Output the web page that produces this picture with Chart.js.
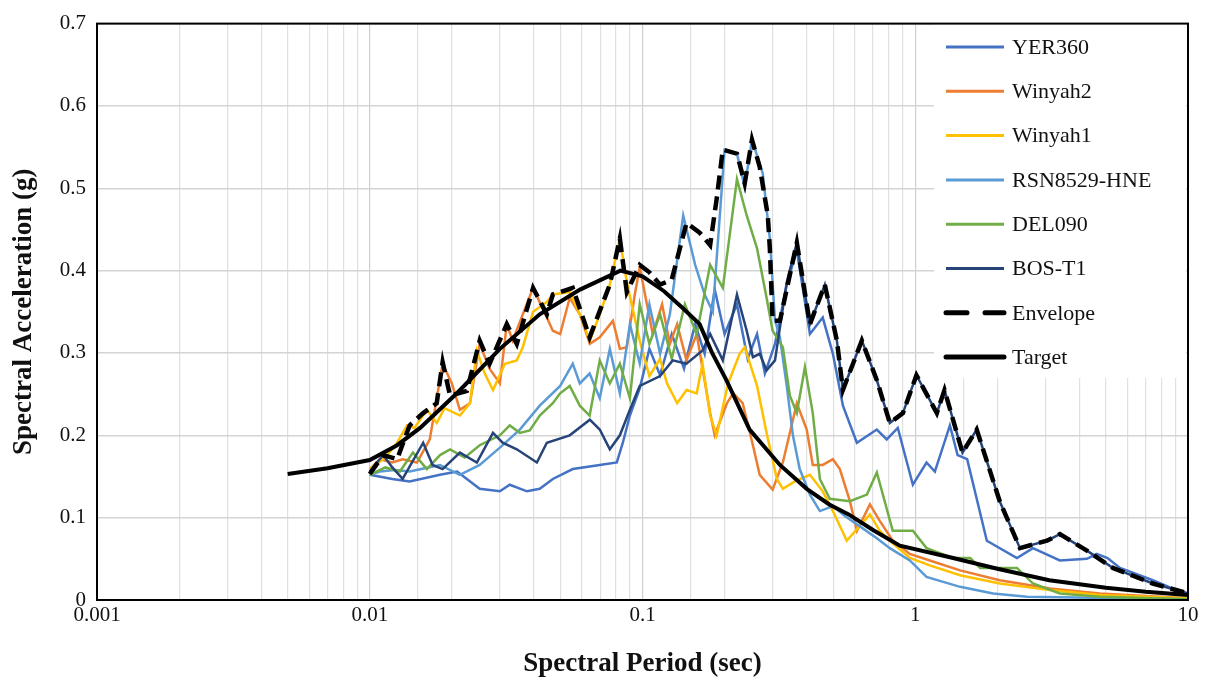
<!DOCTYPE html>
<html>
<head>
<meta charset="utf-8">
<script src="https://cdn.jsdelivr.net/npm/chart.js@4.4.1/dist/chart.umd.min.js"></script>
<style>
  html, body { margin: 0; padding: 0; background: #fff; }
  #wrap { width: 1209px; height: 685px; }
</style>
</head>
<body>
<div id="wrap"><canvas id="chart" width="1209" height="685"></canvas></div>
<script>
// [period (sec), spectral acceleration (g)]

const yer360 = [[0.01,.152],[0.0121,.147],[0.014,.144],[0.0181,.152],[0.0209,.156],[0.0253,.135],[0.030,.132],[0.0326,.140],[0.0377,.132],[0.042,.135],[0.0469,.147],[0.0555,.159],[0.0697,.164],[0.0805,.167],[0.0847,.191],[0.0899,.224],[0.0977,.257],[0.106,.305],[0.116,.273],[0.128,.323],[0.142,.281],[0.156,.335],[0.169,.299],[0.184,.377],[0.200,.323],[0.222,.359],[0.243,.293],[0.263,.323],[0.281,.275],[0.306,.311],[0.338,.383],[0.368,.425],[0.411,.323],[0.458,.343],[0.499,.299],[0.543,.236],[0.611,.191],[0.723,.207],[0.786,.195],[0.863,.209],[0.98,.140],[1.10,.167],[1.18,.156],[1.34,.212],[1.43,.176],[1.55,.171],[1.83,.072],[2.36,.051],[2.70,.063],[3.39,.048],[4.26,.050],[4.63,.056],[5.07,.051],[5.63,.039],[7.43,.024],[10,.006]];

const winyah2 = [[0.01,.159],[0.0109,.171],[0.0121,.167],[0.0132,.171],[0.0149,.167],[0.0166,.195],[0.0185,.287],[0.020,.263],[0.0214,.231],[0.0233,.239],[0.0253,.311],[0.0275,.281],[0.030,.263],[0.0318,.335],[0.0334,.315],[0.0397,.379],[0.0446,.343],[0.0469,.327],[0.0499,.323],[0.0541,.367],[0.0589,.347],[0.0641,.311],[0.0697,.319],[0.0779,.339],[0.0826,.305],[0.0876,.307],[0.0937,.371],[0.0977,.404],[0.109,.323],[0.118,.359],[0.126,.311],[0.134,.335],[0.145,.291],[0.158,.323],[0.177,.227],[0.184,.200],[0.204,.239],[0.215,.251],[0.233,.239],[0.254,.188],[0.269,.152],[0.300,.134],[0.327,.167],[0.368,.239],[0.400,.207],[0.421,.164],[0.458,.164],[0.499,.171],[0.529,.159],[0.576,.120],[0.611,.084],[0.682,.116],[0.741,.096],[0.827,.072],[0.955,.056],[1.13,.048],[1.46,.036],[2.04,.024],[3.12,.014],[4.75,.008],[10,.002]];

const winyah1 = [[0.01,.159],[0.0114,.173],[0.0126,.191],[0.0137,.212],[0.0146,.209],[0.0162,.231],[0.0176,.215],[0.0188,.233],[0.0214,.224],[0.0233,.239],[0.0247,.303],[0.0264,.275],[0.0283,.255],[0.0313,.287],[0.0346,.291],[0.0364,.307],[0.0397,.350],[0.0446,.362],[0.0469,.371],[0.0541,.374],[0.0589,.347],[0.0641,.315],[0.0697,.347],[0.0759,.383],[0.0826,.439],[0.0876,.386],[0.0977,.315],[0.106,.272],[0.116,.293],[0.123,.263],[0.134,.239],[0.145,.255],[0.158,.251],[0.166,.287],[0.177,.224],[0.187,.200],[0.206,.263],[0.227,.299],[0.237,.307],[0.263,.260],[0.285,.203],[0.311,.147],[0.327,.135],[0.362,.144],[0.411,.152],[0.458,.132],[0.499,.108],[0.561,.072],[0.626,.090],[0.682,.104],[0.741,.084],[0.807,.072],[0.955,.051],[1.13,.042],[1.46,.030],[2.04,.020],[3.12,.012],[4.75,.006],[10,.002]];

const rsn8529 = [[0.01,.152],[0.0109,.156],[0.0123,.158],[0.014,.156],[0.0159,.160],[0.0181,.164],[0.0214,.152],[0.0253,.164],[0.030,.185],[0.0355,.207],[0.042,.236],[0.0499,.260],[0.0555,.287],[0.0589,.263],[0.064,.275],[0.0697,.245],[0.0759,.305],[0.0826,.251],[0.0899,.335],[0.0977,.287],[0.106,.359],[0.116,.299],[0.126,.347],[0.141,.467],[0.156,.407],[0.169,.371],[0.181,.350],[0.200,.547],[0.222,.542],[0.237,.502],[0.252,.559],[0.276,.518],[0.293,.439],[0.306,.340],[0.319,.319],[0.338,.260],[0.356,.200],[0.377,.159],[0.411,.128],[0.447,.108],[0.499,.114],[0.552,.102],[0.642,.087],[0.723,.075],[0.807,.063],[0.955,.048],[1.10,.028],[1.46,.016],[1.93,.008],[2.57,.004],[10,.001]];

const del090 = [[0.01,.152],[0.0114,.161],[0.0129,.156],[0.0144,.179],[0.0162,.159],[0.0181,.176],[0.0197,.183],[0.0223,.173],[0.0253,.188],[0.030,.200],[0.0326,.212],[0.0355,.203],[0.0386,.206],[0.042,.224],[0.0469,.239],[0.0499,.251],[0.0541,.260],[0.0589,.236],[0.064,.224],[0.0697,.291],[0.0759,.263],[0.0826,.287],[0.0899,.245],[0.0977,.359],[0.106,.311],[0.116,.347],[0.128,.293],[0.143,.359],[0.158,.323],[0.177,.407],[0.197,.379],[0.222,.511],[0.241,.467],[0.263,.427],[0.285,.367],[0.300,.327],[0.327,.307],[0.347,.248],[0.368,.227],[0.394,.283],[0.421,.227],[0.447,.147],[0.486,.123],[0.576,.120],[0.665,.128],[0.723,.155],[0.827,.084],[0.98,.084],[1.10,.063],[1.37,.051],[1.59,.051],[1.73,.039],[2.04,.039],[2.36,.039],[2.70,.020],[3.39,.008],[4.75,.004],[10,.001]];

const bosT1 = [[0.01,.156],[0.0112,.176],[0.0121,.161],[0.0132,.147],[0.0157,.191],[0.0170,.164],[0.0185,.159],[0.0214,.179],[0.0247,.167],[0.0283,.203],[0.0307,.191],[0.0346,.183],[0.041,.167],[0.0446,.191],[0.0541,.200],[0.0641,.219],[0.0697,.207],[0.0759,.183],[0.0826,.200],[0.0899,.231],[0.0977,.260],[0.116,.272],[0.129,.291],[0.145,.287],[0.166,.303],[0.177,.323],[0.197,.291],[0.222,.371],[0.241,.327],[0.254,.295],[0.269,.299],[0.285,.279],[0.306,.291],[0.338,.386],[0.368,.434],[0.411,.335],[0.466,.383],[0.516,.315],[0.543,.255],[0.637,.315],[0.723,.267],[0.807,.215],[0.901,.227],[1.01,.273],[1.20,.227],[1.28,.255],[1.49,.179],[1.68,.207],[2.04,.120],[2.42,.063],[3.04,.072],[3.39,.080],[4.26,.060],[5.30,.039],[7.43,.020],[10,.008]];

const envelope = [[0.01,.153],[0.0112,.176],[0.0126,.171],[0.014,.212],[0.0157,.227],[0.0176,.239],[0.0185,.289],[0.0197,.248],[0.0227,.254],[0.0253,.315],[0.0275,.287],[0.0318,.335],[0.0346,.311],[0.0397,.379],[0.0446,.347],[0.0469,.371],[0.0555,.379],[0.064,.319],[0.0759,.383],[0.0826,.439],[0.0876,.374],[0.0977,.407],[0.106,.398],[0.116,.383],[0.128,.389],[0.145,.458],[0.162,.446],[0.177,.431],[0.187,.487],[0.197,.547],[0.222,.542],[0.237,.506],[0.252,.559],[0.269,.526],[0.288,.467],[0.293,.427],[0.300,.339],[0.319,.339],[0.368,.434],[0.411,.335],[0.466,.383],[0.516,.315],[0.543,.255],[0.637,.315],[0.723,.267],[0.807,.215],[0.901,.227],[1.01,.273],[1.20,.227],[1.28,.255],[1.49,.179],[1.68,.207],[2.04,.120],[2.42,.063],[3.04,.072],[3.39,.080],[4.26,.060],[5.30,.039],[7.43,.020],[10,.008]];

const target = [[0.005,.153],[0.007,.160],[0.01,.170],[0.0126,.188],[0.0153,.209],[0.021,.252],[0.03,.305],[0.042,.347],[0.059,.377],[0.083,.400],[0.1,.393],[0.12,.375],[0.14,.355],[0.162,.335],[0.18,.300],[0.203,.267],[0.247,.207],[0.319,.164],[0.4,.135],[0.484,.116],[0.57,.104],[0.7,.085],[0.878,.066],[1.34,.052],[2,.038],[3.1,.024],[5,.015],[7,.010],[10,.006]];

const xTickLabels = ['0.001', '0.01', '0.1', '1', '10'];
const yTickLabels = ['0', '0.1', '0.2', '0.3', '0.4', '0.5', '0.6', '0.7'];

const seriesNames = ['YER360', 'Winyah2', 'Winyah1', 'RSN8529-HNE', 'DEL090', 'BOS-T1', 'Envelope', 'Target'];
const seriesData = [yer360, winyah2, winyah1, rsn8529, del090, bosT1, envelope, target];
const seriesColors = ['#4472C4', '#ED7D31', '#FFC000', '#5B9BD5', '#70AD47', '#264478', '#000000', '#000000'];

const serif = '"Liberation Serif", "Times New Roman", serif';

function line(i) {
    let ds = {
        label: seriesNames[i],
        data: seriesData[i].map(p => ({ x: p[0], y: p[1] })),
        borderColor: seriesColors[i],
        backgroundColor: seriesColors[i],
        borderWidth: 2.5,
        pointRadius: 0,
        tension: 0,
        fill: false,
        order: 9 - i
    };
    if (seriesNames[i] == 'Envelope') {
        ds.borderWidth = 4.5;
        ds.borderDash = [14, 7];
        ds.order = 1;
    }
    if (seriesNames[i] == 'Target') {
        ds.borderWidth = 4;
        ds.order = 0;
    }
    return ds;
}

// white legend box inside the plot, frame round the plot area
const legendPlugin = {
    id: 'legendBox',
    beforeDatasetsDraw(chart) {
        const ctx = chart.ctx;
        ctx.save();
        ctx.fillStyle = '#fff';
        ctx.fillRect(934, 20, 252, 358);
        ctx.restore();
    },
    afterDraw(chart) {
        const ctx = chart.ctx;
        const a = chart.chartArea;
        ctx.save();
        ctx.strokeStyle = '#000';
        ctx.lineWidth = 2;
        ctx.strokeRect(a.left, a.top, a.right - a.left, a.bottom - a.top);

        ctx.font = '22px ' + serif;
        ctx.textBaseline = 'middle';
        ctx.textAlign = 'left';
        chart.data.datasets.forEach((ds, i) => {
            const y = 47 + i * 44.3;
            ctx.strokeStyle = ds.borderColor;
            ctx.lineWidth = ds.label == 'Envelope' || ds.label == 'Target' ? 5 : 3;
            ctx.setLineDash(ds.label == 'Envelope' ? [21, 18] : []);
            ctx.lineCap = ds.label == 'Envelope' || ds.label == 'Target' ? 'round' : 'butt';
            ctx.beginPath();
            ctx.moveTo(946, y);
            ctx.lineTo(1004, y);
            ctx.stroke();
            ctx.setLineDash([]);
            ctx.fillStyle = '#111';
            ctx.fillText(ds.label, 1012, y + 1);
        });
        ctx.restore();
    }
};

const chart = new Chart(document.getElementById('chart'), {
    type: 'line',
    data: { datasets: seriesNames.map((n, i) => line(i)) },
    options: {
        responsive: false,
        animation: false,
        devicePixelRatio: 1,
        layout: { padding: { left: 0, top: 15, right: 21, bottom: 0 } },
        plugins: { legend: { display: false }, tooltip: { enabled: false } },
        scales: {
            x: {
                type: 'logarithmic',
                min: 0.001,
                max: 10,
                afterFit: s => { s.height = 85; },
                border: { display: false },
                grid: {
                    drawTicks: false,
                    lineWidth: 1.2,
                    color: c => {
                        const e = Math.log10(c.tick.value);
                        return Math.abs(e - Math.round(e)) < 1e-6 ? '#cfcfcf' : '#e0e0e0';
                    }
                },
                ticks: {
                    autoSkip: false,
                    maxRotation: 0,
                    padding: 3,
                    color: '#111',
                    font: { family: serif, size: 21 },
                    callback: v => {
                        const e = Math.log10(v);
                        return Math.abs(e - Math.round(e)) < 1e-6 ? xTickLabels[Math.round(e) + 3] : '';
                    }
                },
                title: {
                    display: true,
                    text: 'Spectral Period (sec)',
                    color: '#111',
                    font: { family: serif, size: 27, weight: 'bold' },
                    padding: { top: 0, bottom: 5 }
                }
            },
            y: {
                min: 0,
                max: 0.7,
                afterFit: s => { s.width = 97; },
                border: { display: false },
                grid: { drawTicks: false, color: '#d4d4d4', lineWidth: 1.5 },
                ticks: {
                    stepSize: 0.1,
                    padding: 11,
                    color: '#111',
                    font: { family: serif, size: 21 },
                    callback: v => yTickLabels[Math.round(v * 10)]
                },
                title: {
                    display: true,
                    text: 'Spectral Acceleration (g)',
                    color: '#111',
                    font: { family: serif, size: 27, weight: 'bold' },
                    padding: { top: 8, bottom: 0 }
                }
            }
        }
    },
    plugins: [legendPlugin]
});
</script>
</body>
</html>
